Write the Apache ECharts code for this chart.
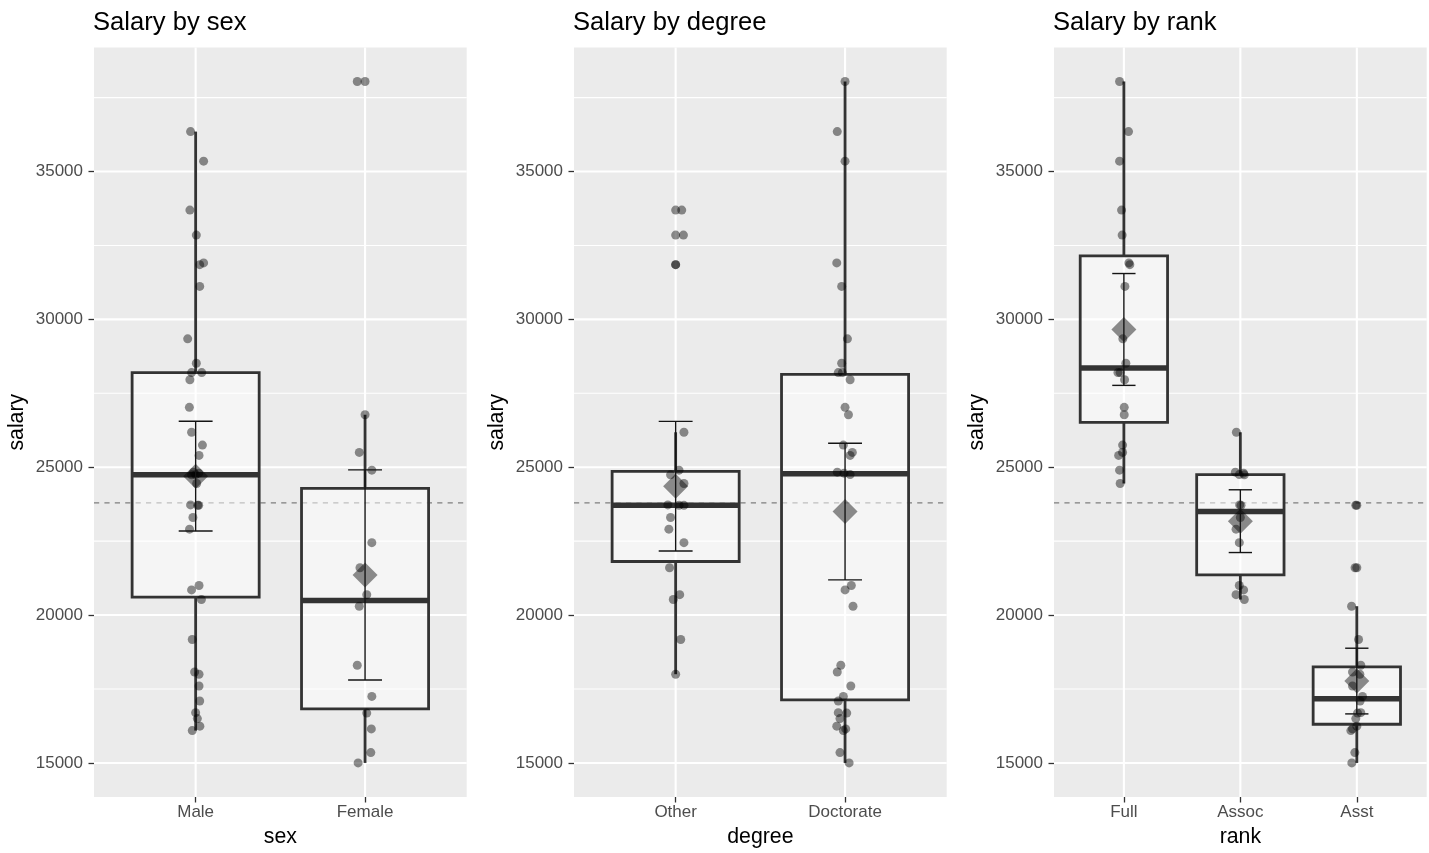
<!DOCTYPE html>
<html>
<head>
<meta charset="utf-8">
<script src="https://cdn.jsdelivr.net/npm/echarts@6/dist/echarts.min.js"></script>
<style>html,body{margin:0;padding:0;background:#fff;overflow:hidden;width:1429px;height:853px}#chart{width:1429px;height:853px;display:block}</style>
</head>
<body>
<div id="chart"></div>
<script>
// ---------------- data ----------------
const sexCategories = ['Male', 'Female'];
const degreeCategories = ['Other', 'Doctorate'];
const rankCategories = ['Full', 'Assoc', 'Asst'];

const yMajorTicks = [15000, 20000, 25000, 30000, 35000];
const yMinorTicks = [17500, 22500, 27500, 32500, 37500];

// salaries per group, with horizontal jitter offsets (category units)
const salaryMale = [36350,35350,33696,32850,31909,31850,31114,29342,28516,28200,28200,27959,27025,26182,25748,25400,24832,24800,24750,24742,24450,23725,23713,23712,23300,22906,20999,20850,20525,19175,18075,18000,17600,17095,16700,16500,16244,16094];
const jitterMale = [-0.030,0.047,-0.034,0.004,0.047,0.024,0.024,-0.047,0.004,-0.024,0.036,-0.034,-0.037,-0.024,0.040,0.020,-0.012,0.018,0,-0.024,0.006,-0.030,0.012,0.018,-0.016,-0.036,0.020,-0.024,0.034,-0.020,-0.006,0.020,0.020,0.024,0,0.010,0.025,-0.020];

const salaryFemale = [38045,26775,25500,24900,22450,21600,20690,20300,18304,17250,16686,16150,15350,15000];
const jitterFemale = [-0.046,0,-0.034,0.040,0.040,-0.030,0.010,-0.034,-0.046,0.040,0.010,0.037,0.034,-0.041];

const salaryOther = [33696,32850,31850,26182,24900,24742,24450,23725,23713,23712,23300,22906,22450,21600,20690,20525,19175,18000];
const jitterOther = [0.036,0.046,0,0.049,0.020,-0.030,0.049,-0.046,0.020,0.049,-0.030,-0.040,0.049,-0.036,0.024,-0.014,0.030,0];

const salaryDoctorate = [38045,36350,35350,31909,31114,29342,28516,28200,28200,27959,27025,26775,25748,25500,25400,24832,24800,24750,20999,20850,20300,18304,18075,17600,17250,17095,16700,16686,16500,16244,16150,16094,15350,15000];
const jitterDoctorate = [0,-0.046,0,-0.049,-0.020,0.014,-0.020,-0.040,-0.016,0.030,0,0.020,-0.010,0.043,0.030,-0.046,-0.006,0.030,0.037,0,0.047,-0.025,-0.046,0.034,-0.010,-0.040,-0.040,0.010,-0.030,-0.049,0.004,-0.010,-0.030,0.024];

const salaryFull = [38045,36350,35350,33696,32850,31909,31850,31114,29342,28516,28200,28200,27959,27025,26775,25748,25500,25400,24900,24450];
const jitterFull = [-0.037,0.040,-0.037,-0.020,-0.015,0.043,0.051,0.009,-0.009,0.017,-0.051,-0.032,0.006,0.003,0.003,-0.011,-0.011,-0.045,-0.037,-0.032];

const salaryAssoc = [26182,24832,24800,24750,24742,23725,23712,23300,22906,22450,20999,20850,20690,20525];
const jitterAssoc = [-0.034,-0.043,0.028,-0.009,0.034,-0.006,0.006,0,-0.037,-0.009,-0.009,0.028,-0.037,0.034];

const salaryAsst = [23713,21600,20300,19175,18304,18075,18000,17600,17250,17095,16700,16686,16500,16244,16150,16094,15350,15000];
const jitterAsst = [-0.009,-0.015,-0.045,0.015,0.034,-0.037,0.026,-0.037,0.049,0.028,0.034,0.006,-0.009,0,-0.037,-0.051,-0.017,-0.043];

// Student t 0.975 quantiles by degrees of freedom (for 95% CI of the mean)
const tCrit975 = {13: 2.1604, 17: 2.1098, 19: 2.0930, 33: 2.0345, 37: 2.0262};

// ---------------- stats ----------------
function quantile7(s, p) {
  const h = (s.length - 1) * p, lo = Math.floor(h), hi = Math.min(lo + 1, s.length - 1);
  return s[lo] + (h - lo) * (s[hi] - s[lo]);
}
function boxStats(vals) {
  const s = vals.slice().sort((a, b) => a - b);
  const q1 = quantile7(s, 0.25), med = quantile7(s, 0.5), q3 = quantile7(s, 0.75);
  const iqr = q3 - q1, lf = q1 - 1.5 * iqr, uf = q3 + 1.5 * iqr;
  const inside = s.filter(v => v >= lf && v <= uf);
  return { q1, med, q3, wlo: inside[0], whi: inside[inside.length - 1], out: s.filter(v => v < lf || v > uf) };
}
function meanCI(vals) {
  const n = vals.length, m = vals.reduce((a, b) => a + b, 0) / n;
  const sd = Math.sqrt(vals.reduce((a, b) => a + (b - m) * (b - m), 0) / (n - 1));
  const half = tCrit975[n - 1] * sd / Math.sqrt(n);
  return { m, lo: m - half, hi: m + half };
}
const allSalaries = salaryMale.concat(salaryFemale);
const overallMean = allSalaries.reduce((a, b) => a + b, 0) / allSalaries.length;

const panels = [
  { title: 'Salary by sex', axisName: 'sex', cats: sexCategories, groups: [[salaryMale, jitterMale], [salaryFemale, jitterFemale]], left: 94 },
  { title: 'Salary by degree', axisName: 'degree', cats: degreeCategories, groups: [[salaryOther, jitterOther], [salaryDoctorate, jitterDoctorate]], left: 574 },
  { title: 'Salary by rank', axisName: 'rank', cats: rankCategories, groups: [[salaryFull, jitterFull], [salaryAssoc, jitterAssoc], [salaryAsst, jitterAsst]], left: 1054 }
];

// ---------------- layout / styles ----------------
const FONT = 'Liberation Sans, Arial, Helvetica, sans-serif';
const GRID_TOP = 47.4, GRID_H = 754.2, GRID_W = 372.7;
const Y_MIN = 13847.75, Y_MAX = 39197.25;
const POINT_COLOR = 'rgba(0,0,0,0.55)';
const BOX_LINE = '#333333';

const grids = [], xAxes = [], yAxes = [], titles = [], series = [];

panels.forEach((p, i) => {
  const n = p.cats.length;
  const idx = p.cats.map((c, j) => j);
  grids.push({ left: p.left, top: GRID_TOP, width: GRID_W, height: GRID_H, show: true, backgroundColor: '#EBEBEB', borderWidth: 0, containLabel: false });
  titles.push({ text: p.title, left: p.left - 1, top: 10, padding: 0, textStyle: { fontFamily: FONT, fontSize: 25.6, fontWeight: 'normal', color: '#000' } });
  xAxes.push({
    type: 'value', gridIndex: i, min: -0.6, max: n - 0.4, position: 'bottom',
    axisLine: { show: false, onZero: false }, splitLine: { show: false },
    axisTick: { show: true, customValues: idx, length: 5.5, lineStyle: { color: '#333', width: 1.3 } },
    axisLabel: { customValues: idx, formatter: v => p.cats[Math.round(v)], color: '#4D4D4D', fontFamily: FONT, fontSize: 17, margin: 7 },
    name: p.axisName, nameLocation: 'middle', nameGap: 30,
    nameTextStyle: { fontFamily: FONT, fontSize: 21.3, color: '#000' }
  });
  yAxes.push({
    type: 'value', gridIndex: i, min: Y_MIN, max: Y_MAX, position: 'left',
    axisLine: { show: false, onZero: false }, splitLine: { show: false },
    axisTick: { show: true, customValues: yMajorTicks, length: 5.5, lineStyle: { color: '#333', width: 1.3 } },
    axisLabel: { customValues: yMajorTicks, formatter: v => String(v), color: '#4D4D4D', fontFamily: FONT, fontSize: 17, margin: 11 },
    name: 'salary', nameLocation: 'middle', nameRotate: 90, nameGap: 66,
    nameTextStyle: { fontFamily: FONT, fontSize: 21.3, color: '#000' }
  });

  const common = { xAxisIndex: i, yAxisIndex: i, silent: true, animation: false };
  const hLines = (vals, w, z) => ({
    type: 'custom', ...common, z,
    data: vals.map(v => [0, v]),
    renderItem(params, api) {
      const cs = params.coordSys, y = api.coord([0, api.value(1)])[1];
      return { type: 'line', shape: { x1: cs.x, y1: y, x2: cs.x + cs.width, y2: y }, style: { stroke: '#FFFFFF', lineWidth: w } };
    }
  });
  series.push(hLines(yMinorTicks, 1.1, 1));
  series.push(hLines(yMajorTicks, 2.1, 1));
  series.push({
    type: 'custom', ...common, z: 1,
    data: idx.map(j => [j, 0]),
    renderItem(params, api) {
      const cs = params.coordSys, x = api.coord([api.value(0), 0])[0];
      return { type: 'line', shape: { x1: x, y1: cs.y, x2: x, y2: cs.y + cs.height }, style: { stroke: '#FFFFFF', lineWidth: 2.1 } };
    }
  });
  // overall mean dashed line
  series.push({
    type: 'custom', ...common, z: 2,
    data: [[0, overallMean]],
    renderItem(params, api) {
      const cs = params.coordSys, y = api.coord([0, api.value(1)])[1];
      return { type: 'line', shape: { x1: cs.x, y1: y, x2: cs.x + cs.width, y2: y }, style: { stroke: '#7F7F7F', lineWidth: 1.3, lineDash: [5.2, 5.2] } };
    }
  });

  const stats = p.groups.map(g => boxStats(g[0]));
  const means = p.groups.map(g => meanCI(g[0]));

  // boxplots
  series.push({
    type: 'custom', ...common, z: 3,
    data: stats.map((s, j) => [j, s.wlo, s.q1, s.med, s.q3, s.whi]),
    renderItem(params, api) {
      const j = api.value(0);
      const c = v => api.coord([j, v]);
      const pLo = c(api.value(1)), pQ1 = c(api.value(2)), pMed = c(api.value(3)), pQ3 = c(api.value(4)), pHi = c(api.value(5));
      const xl = api.coord([j - 0.375, 0])[0], xr = api.coord([j + 0.375, 0])[0];
      const ls = { stroke: BOX_LINE, lineWidth: 2.8 };
      return { type: 'group', children: [
        { type: 'line', shape: { x1: pLo[0], y1: pLo[1], x2: pQ1[0], y2: pQ1[1] }, style: ls },
        { type: 'line', shape: { x1: pQ3[0], y1: pQ3[1], x2: pHi[0], y2: pHi[1] }, style: ls },
        { type: 'rect', shape: { x: xl, y: pQ3[1], width: xr - xl, height: pQ1[1] - pQ3[1] }, style: { fill: 'rgba(255,255,255,0.5)', stroke: BOX_LINE, lineWidth: 2.8 } },
        { type: 'line', shape: { x1: xl, y1: pMed[1], x2: xr, y2: pMed[1] }, style: { stroke: BOX_LINE, lineWidth: 5.5 } }
      ] };
    }
  });
  // outliers (at category centre)
  const outData = [];
  stats.forEach((s, j) => s.out.forEach(v => outData.push([j, v])));
  series.push({ type: 'scatter', ...common, z: 4, data: outData, symbol: 'circle', symbolSize: 9, itemStyle: { color: POINT_COLOR } });
  // jittered points
  const ptData = [];
  p.groups.forEach((g, j) => g[0].forEach((v, k) => ptData.push([j + g[1][k], v])));
  series.push({ type: 'scatter', ...common, z: 4, data: ptData, symbol: 'circle', symbolSize: 9, itemStyle: { color: POINT_COLOR } });
  // mean diamonds
  series.push({ type: 'scatter', ...common, z: 5, data: means.map((m, j) => [j, m.m]), symbol: 'diamond', symbolSize: 25, itemStyle: { color: POINT_COLOR } });
  // 95% CI error bars
  series.push({
    type: 'custom', ...common, z: 6,
    data: means.map((m, j) => [j, m.lo, m.hi]),
    renderItem(params, api) {
      const j = api.value(0);
      const pl = api.coord([j, api.value(1)]), ph = api.coord([j, api.value(2)]);
      const xl = api.coord([j - 0.1, 0])[0], xr = api.coord([j + 0.1, 0])[0];
      const st = { stroke: '#141414', lineWidth: 1.4 };
      return { type: 'group', children: [
        { type: 'line', shape: { x1: pl[0], y1: pl[1], x2: ph[0], y2: ph[1] }, style: st },
        { type: 'line', shape: { x1: xl, y1: pl[1], x2: xr, y2: pl[1] }, style: st },
        { type: 'line', shape: { x1: xl, y1: ph[1], x2: xr, y2: ph[1] }, style: st }
      ] };
    }
  });
});

const chart = echarts.init(document.getElementById('chart'), null, { renderer: 'canvas' });
chart.setOption({
  animation: false,
  backgroundColor: '#FFFFFF',
  textStyle: { fontFamily: FONT },
  title: titles,
  grid: grids,
  xAxis: xAxes,
  yAxis: yAxes,
  series: series
});
</script>
</body>
</html>
